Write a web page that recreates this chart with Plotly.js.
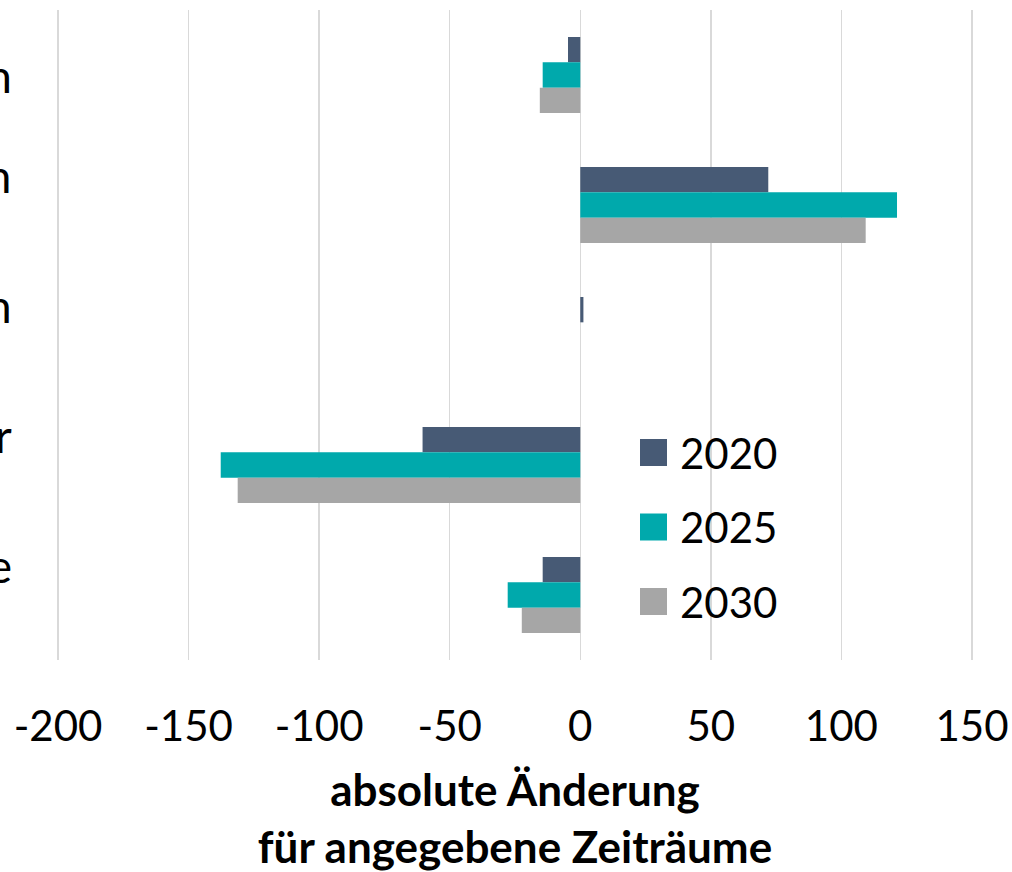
<!DOCTYPE html>
<html>
<head>
<meta charset="utf-8">
<script src="https://cdn.plot.ly/plotly-3.0.1.min.js"></script>
<style>
html,body{margin:0;padding:0;background:#fff;}
#chart{width:1012px;height:872px;}
</style>
</head>
<body>
<div id="chart"></div>
<script>
// ---- data ----
const categories = [
  "Kinder unter 6 Jahren",
  "Kinder und Jugendlichen<br>6 bis 17 Jahre",
  "Personen im Alter von<br>18 bis 64 Jahren",
  "65 Jahre und älter<br>(Senioren)",
  "Hochbetagte<br>ab 80 J."
];
const seriesNames = ["2020", "2025", "2030"];
const v2020 = [-4.7, 72, 1.2, -60.4, -14.4];
const v2025 = [-14.4, 121.3, 0, -137.7, -27.8];
const v2030 = [-15.5, 109.3, 0, -131.2, -22.4];
const tickVals = [-200, -150, -100, -50, 0, 50, 100, 150];
const tickText = ["-200", "-150", "-100", "-50", "0", "50", "100", "150"];
const axisTitle = "<b>absolute Änderung<br>für angegebene Zeiträume</b>";

// ---- styles ----
const colors = ["#475a75", "#00a9ac", "#a6a6a6"];
const W = 1012, H = 872;
const M = {l: 57, r: 39, t: 10, b: 212};
const PW = W - M.l - M.r, PH = H - M.t - M.b;
const px2x = p => (p - M.l) / PW;
const px2y = p => (H - M.b - p) / PH;
const FONT = "Lato, 'Open Sans', sans-serif";

const values = [v2020, v2025, v2030];
const traces = values.map((v, i) => ({
  type: "bar",
  orientation: "h",
  name: seriesNames[i],
  x: v,
  y: categories,
  marker: {color: colors[i]},
  showlegend: false,
  hoverinfo: "x+name"
}));

const annotations = [];
const shapes = [];
// category labels (cut off at the left edge, as in the reference)
categories.forEach(c => {
  annotations.push({
    xref: "paper", yref: "y", x: px2x(14), y: c,
    xanchor: "right", yanchor: "middle", align: "center",
    text: c, showarrow: false,
    font: {family: FONT, size: 46, color: "#000"}
  });
});
// custom legend
const legTop = 452.5, legStep = 74.5;
seriesNames.forEach((n, i) => {
  const cy = legTop + i * legStep;
  shapes.push({
    type: "rect", xref: "paper", yref: "paper",
    x0: px2x(640), x1: px2x(667), y0: px2y(cy + 13.5), y1: px2y(cy - 13.5),
    fillcolor: colors[i], line: {width: 0}
  });
  annotations.push({
    xref: "paper", yref: "paper", x: px2x(678), y: px2y(cy),
    xanchor: "left", yanchor: "middle", text: n, showarrow: false,
    font: {family: FONT, size: 42, color: "#000"}
  });
});

const layout = {
  width: W, height: H,
  margin: M,
  paper_bgcolor: "#fff", plot_bgcolor: "#fff",
  barmode: "group", bargap: 0.415, bargroupgap: 0,
  font: {family: FONT, color: "#000"},
  xaxis: {
    range: [-200.4, 150.4], tickvals: tickVals, ticktext: tickText,
    showgrid: true, gridcolor: "#d9d9d9", gridwidth: 1.5,
    zeroline: true, zerolinecolor: "#d9d9d9", zerolinewidth: 1.5,
    showline: false, ticks: "",
    tickfont: {family: FONT, size: 42, color: "#000"},
    ticklabelstandoff: 38,
    title: {text: axisTitle, font: {family: FONT, size: 44, color: "#000"}, standoff: 26}
  },
  yaxis: {
    type: "category", autorange: "reversed",
    showgrid: false, zeroline: false, showline: false,
    showticklabels: false, ticks: ""
  },
  annotations: annotations,
  shapes: shapes,
  showlegend: false
};

Plotly.newPlot("chart", traces, layout, {displayModeBar: false, staticPlot: true});
</script>
</body>
</html>
